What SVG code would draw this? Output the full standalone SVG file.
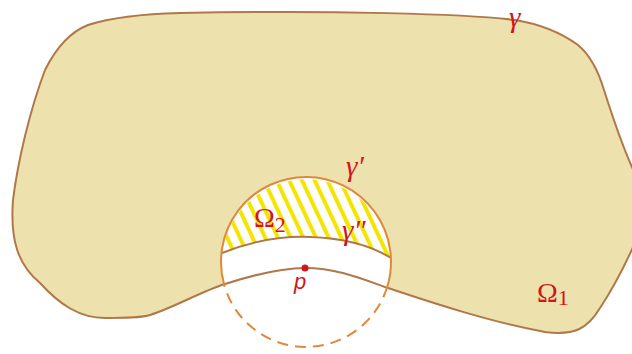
<svg xmlns="http://www.w3.org/2000/svg" width="632" height="354" viewBox="0 0 632 354">
<style>
.lbl{font-family:"Liberation Serif","DejaVu Serif",serif;font-style:italic;fill:#d2141c}
.big{font-family:"Liberation Serif","DejaVu Serif",serif;fill:#d2141c}
.bnd{fill:none;stroke:#b07848;stroke-width:2}
</style>
<defs>
<path id="outer" d="M 305,268 C 335,268 360,278 385,287 C 430,302 490,322 545,332 C 575,336 588,328 600,308 C 612,290 625,265 634,245 C 642,225 642,190 632,167 C 622,145 612,115 604,90 C 598,70 590,55 578,45 C 560,32 540,24 515,20 C 470,14 330,10 180,13 C 140,14 110,18 88,25 C 70,32 55,50 45,70 C 30,110 18,160 13,200 C 10,240 18,265 40,283 C 60,305 80,318 105,318 C 125,318 140,318 150,315 C 175,307 200,292 225,284 C 250,276 280,268 305,268 Z"/>
<pattern id="hatch" patternUnits="userSpaceOnUse" width="11.5" height="40" patternTransform="rotate(-25)">
<rect x="0" y="0" width="4" height="40" fill="#f5e400"/>
</pattern>
<clipPath id="upper">
<path d="M 222,253 C 255,240 285,236 310,237 C 340,238 370,245 391,258 A 85 85 0 0 0 222,253 Z"/>
</clipPath>
</defs>
<g id="domain">
<use href="#outer" fill="#ede1ae"/>
</g>
<g id="disk">
<circle cx="306" cy="262" r="85" fill="#ffffff"/>
<rect x="215" y="170" width="185" height="95" fill="url(#hatch)" clip-path="url(#upper)"/>
</g>
<g id="curves">
<use href="#outer" class="bnd"/>
<path class="bnd" d="M 222,253 C 255,240 285,236 310,237 C 340,238 370,245 391,258"/>
<path d="M 224.2,285 A 85 85 0 1 1 387.2,287" fill="none" stroke="#e0883c" stroke-width="2"/>
<path d="M 387.2,287 A 85 85 0 0 1 224.2,285" fill="none" stroke="#e0883c" stroke-width="2" stroke-dasharray="11 7"/>
<circle cx="305" cy="268" r="3.5" fill="#d2141c"/>
</g>
<g id="labels">
<text class="lbl" x="509" y="27" font-size="29">γ</text>
<text class="lbl" x="346" y="176" font-size="29">γ′</text>
<text class="lbl" x="342" y="240" font-size="29">γ″</text>
<text x="294" y="289" font-size="22" font-family="Liberation Sans, Arial, sans-serif" font-style="italic" fill="#d2141c">p</text>
<text class="big" x="254" y="227" font-size="28">Ω<tspan font-size="22" dy="5">2</tspan></text>
<text class="big" x="537" y="302" font-size="28">Ω<tspan font-size="22" dy="3">1</tspan></text>
</g>
</svg>
